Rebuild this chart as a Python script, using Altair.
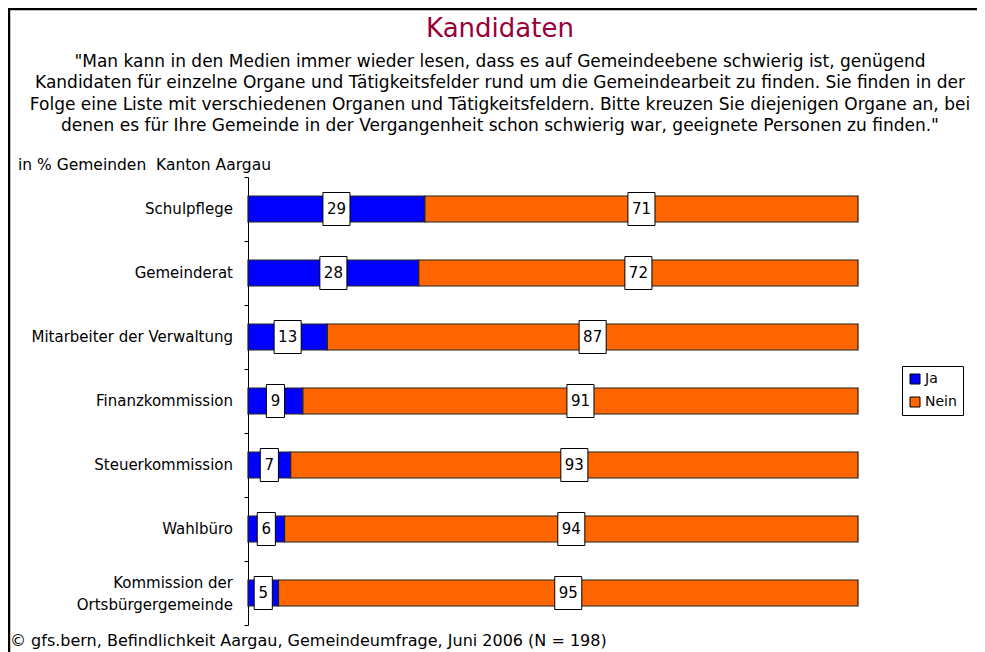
import altair as alt
import pandas as pd

categories = [
    "Schulpflege",
    "Gemeinderat",
    "Mitarbeiter der Verwaltung",
    "Finanzkommission",
    "Steuerkommission",
    "Wahlbüro",
    "Kommission der|Ortsbürgergemeinde",
]
ja = [29, 28, 13, 9, 7, 6, 5]
nein = [71, 72, 87, 91, 93, 94, 95]
series = ["Ja", "Nein"]
colors = ["#0000FF", "#FF6600"]

title_text = "Kandidaten"
subtitle_lines = [
    "\"Man kann in den Medien immer wieder lesen, dass es auf Gemeindeebene schwierig ist, genügend",
    "Kandidaten für einzelne Organe und Tätigkeitsfelder rund um die Gemeindearbeit zu finden. Sie finden in der",
    "Folge eine Liste mit verschiedenen Organen und Tätigkeitsfeldern. Bitte kreuzen Sie diejenigen Organe an, bei",
    "denen es für Ihre Gemeinde in der Vergangenheit schon schwierig war, geeignete Personen zu finden.\"",
]
unit_text = "in % Gemeinden \u00a0Kanton Aargau"
footer_text = "© gfs.bern, Befindlichkeit Aargau, Gemeindeumfrage, Juni 2006 (N = 198)"

rows = []
for c, a, b in zip(categories, ja, nein):
    rows.append({"cat": c, "series": series[0], "ord": 0, "value": a})
    rows.append({"cat": c, "series": series[1], "ord": 1, "value": b})
df = pd.DataFrame(rows)
cat_df = pd.DataFrame({"cat": categories})

FONT = "DejaVu Sans"
W, H = 610, 448
PAD_L, PAD_T = 240, 169
TOTAL_W, TOTAL_H = 969, 644

y_axis = alt.Axis(
    title=None,
    tickBand="extent",
    labels=False,
    domainColor="black",
    domainWidth=1,
    tickColor="black",
    tickSize=4,
    tickWidth=1,
)
y_scale = alt.Scale(paddingInner=0, paddingOuter=0)
y_enc = alt.Y("cat:N", sort=categories, scale=y_scale, axis=y_axis)
x_scale = alt.Scale(domain=[0, 100], nice=False)

base = (
    alt.Chart(df)
    .transform_stack(
        stack="value", groupby=["cat"], as_=["x0", "x1"], sort=[alt.SortField("ord")]
    )
    .transform_calculate(
        mid="(datum.x0 + datum.x1) / 2",
        dig="datum.value >= 10 ? 'two' : 'one'",
    )
)

bars = base.mark_bar(size=26, stroke="#222222", strokeWidth=1.2).encode(
    x=alt.X("x0:Q", scale=x_scale, axis=None),
    x2="x1:Q",
    y=y_enc,
    color=alt.Color(
        "series:N",
        scale=alt.Scale(domain=series, range=colors),
        legend=alt.Legend(
            title=None,
            orient="none",
            legendX=654,
            legendY=189,
            strokeColor="black",
            fillColor="white",
            padding=6,
            symbolType="square",
            symbolSize=100,
            symbolStrokeColor="black",
            symbolStrokeWidth=1,
            symbolOpacity=1,
            labelFont=FONT,
            labelFontSize=14,
            labelColor="black",
            labelOffset=3,
            rowPadding=9,
        ),
    ),
)

boxes = base.mark_point(
    filled=True, fill="white", stroke="black", strokeWidth=1, opacity=1, size=1089
).encode(
    x=alt.X("mid:Q", scale=x_scale, axis=None),
    y=y_enc,
    shape=alt.Shape(
        "dig:N",
        scale=alt.Scale(
            domain=["one", "two"],
            range=["M-0.55,-1H0.55V1H-0.55Z", "M-0.82,-1H0.82V1H-0.82Z"],
        ),
        legend=None,
    ),
)

labels = base.mark_text(font=FONT, fontSize=15, color="black", baseline="middle").encode(
    x=alt.X("mid:Q", scale=x_scale, axis=None),
    y=y_enc,
    text="value:Q",
)

# category labels (drawn as text so that the two-line label can be centred)
cat_base = alt.Chart(cat_df)
cat_single = (
    cat_base.transform_filter("indexof(datum.cat, '|') < 0")
    .mark_text(font=FONT, fontSize=15, color="black", align="right", baseline="middle")
    .encode(x=alt.value(-15), y=y_enc, text="cat:N")
)
cat_multi = cat_base.transform_filter("indexof(datum.cat, '|') >= 0").transform_calculate(
    l1="split(datum.cat, '|')[0]", l2="split(datum.cat, '|')[1]"
)
cat_l1 = cat_multi.mark_text(
    font=FONT, fontSize=15, color="black", align="right", baseline="middle", dy=-10
).encode(x=alt.value(-15), y=y_enc, text="l1:N")
cat_l2 = cat_multi.mark_text(
    font=FONT, fontSize=15, color="black", align="right", baseline="middle", dy=12
).encode(x=alt.value(-15), y=y_enc, text="l2:N")

one = pd.DataFrame({"k": [0]})


def txt(s, x, y, size, color="black", align="left"):
    return alt.Chart(one).mark_text(
        font=FONT, fontSize=size, color=color, align=align, baseline="alphabetic"
    ).encode(x=alt.value(x), y=alt.value(y), text=alt.value(s))


annots = [txt(title_text, 252, -140, 26, color="#99003A", align="center")]
for i, line in enumerate(subtitle_lines):
    annots.append(txt(line, 252, -110 + i * 21.3, 17, align="center"))
annots.append(txt(unit_text, -230, -7, 15.5))
annots.append(txt(footer_text, -238, 469, 16))

frame_left = alt.Chart(one).mark_rule(color="black", strokeWidth=2.5).encode(
    x=alt.value(-239), y=alt.value(-168), y2=alt.value(600)
)
frame_top = alt.Chart(one).mark_rule(color="black", strokeWidth=2.5).encode(
    x=alt.value(-240), x2=alt.value(800), y=alt.value(-168)
)

chart = (
    alt.layer(
        bars, boxes, labels, cat_single, cat_l1, cat_l2, *annots, frame_left, frame_top
    )
    .resolve_scale(shape="independent")
    .properties(
        width=W,
        height=H,
        autosize=alt.AutoSizeParams(type="none"),
        padding={
            "left": PAD_L,
            "top": PAD_T,
            "right": TOTAL_W - PAD_L - W,
            "bottom": TOTAL_H - PAD_T - H,
        },
        background="white",
    )
    .configure_view(stroke=None)
)

chart.save("out.html", embed_options={"renderer": "svg", "actions": False})
